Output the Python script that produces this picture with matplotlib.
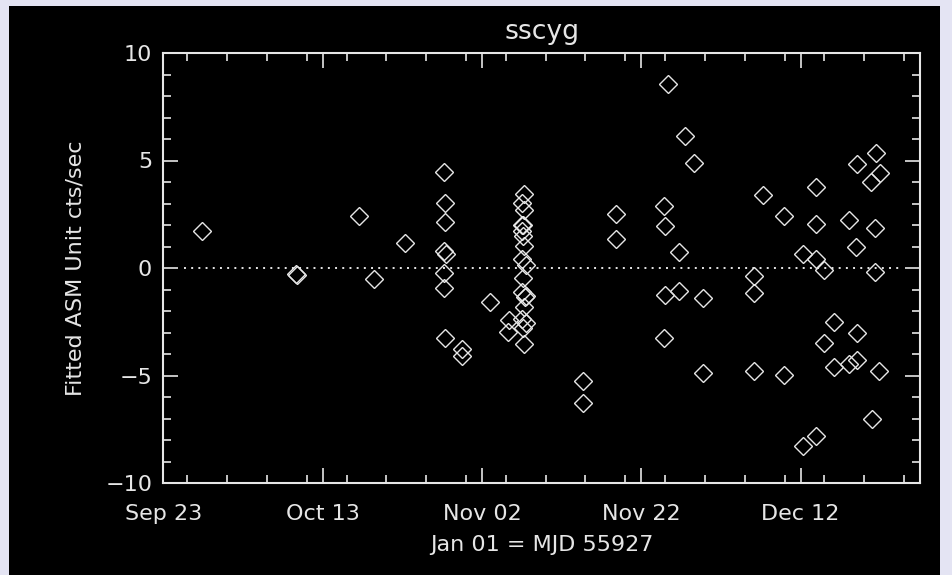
import matplotlib
matplotlib.use("Agg")
import matplotlib.pyplot as plt
from matplotlib.patches import Rectangle
from matplotlib.ticker import FixedLocator, MultipleLocator

# observation times (MJD) and fitted ASM rates (cts/sec)
mjd = [
    55831.9,
    55843.6, 55843.75,
    55851.6, 55853.5, 55857.4,
    55862.2, 55862.4, 55862.4, 55862.2, 55862.5, 55862.2, 55862.2, 55862.4,
    55864.5, 55864.5,
    55868.0, 55870.4, 55870.3,
    55872.3, 55872.0, 55872.3, 55872.0, 55872.1, 55872.0, 55872.2, 55872.3,
    55872.0, 55872.5, 55872.1, 55872.0, 55872.5, 55872.4, 55872.3, 55872.0,
    55872.5, 55872.2, 55872.3,
    55879.7, 55879.7,
    55883.8, 55883.8,
    55890.3, 55889.8, 55890.0, 55890.0, 55889.8,
    55891.8, 55891.8, 55892.5, 55893.6,
    55894.8, 55894.8,
    55901.1, 55901.1, 55901.1, 55902.3,
    55904.9, 55904.9,
    55907.3, 55907.3,
    55909.0, 55909.0, 55909.0, 55909.0,
    55909.9, 55909.9,
    55911.2, 55911.2,
    55913.1, 55913.1,
    55914.0, 55914.1, 55914.1, 55914.1,
    55915.9, 55916.0,
    55916.4, 55916.4, 55916.5,
    55917.0, 55916.9,
]
rate = [
    1.71,
    -0.28, -0.33,
    2.42, -0.53, 1.18,
    4.45, 3.04, 2.14, 0.78, 0.64, -0.25, -0.91, -3.27,
    -3.78, -4.08,
    -1.60, -2.42, -2.96,
    3.42, 3.02, 2.68, 2.02, 1.98, 1.72, 1.48, 1.02,
    0.42, 0.15, -0.46, -1.12, -1.28, -1.33, -1.80, -2.36,
    -2.57, -2.80, -3.52,
    -5.26, -6.30,
    2.51, 1.33,
    8.56, 2.88, 1.97, -1.26, -3.27,
    0.73, -1.05, 6.14, 4.90,
    -1.41, -4.90,
    -0.36, -1.18, -4.79, 3.40,
    2.42, -4.98,
    0.65, -8.28,
    3.75, 2.05, 0.40, -7.81,
    -0.09, -3.47,
    -2.50, -4.62,
    2.23, -4.47,
    0.99, 4.82, -3.04, -4.28,
    4.01, -7.04,
    1.87, -0.17, 5.36,
    4.40, -4.79,
]

tick_mjd = [55827, 55847, 55867, 55887, 55907]
tick_labels = ["Sep 23", "Oct 13", "Nov 02", "Nov 22", "Dec 12"]
x_range = (55827, 55922)

FG = "#e6e6e6"
plt.rcParams["font.family"] = "DejaVu Sans"
plt.rcParams["font.size"] = 16

fig = plt.figure(figsize=(9.52, 5.75), dpi=100)
fig.patch.set_facecolor("#e4e4f3")
# black plotting area inside the light frame, kept behind the axes
fig.patches.append(Rectangle((9 / 952, 0), 931 / 952, 569 / 575,
                             transform=fig.transFigure, facecolor="black",
                             edgecolor="none", zorder=-1))

ax = fig.add_axes([163.3 / 952, 92 / 575, 756.7 / 952, 430 / 575])
ax.set_facecolor("black")

ax.plot(mjd, rate, linestyle="none", marker="D", markersize=9,
        markerfacecolor="none", markeredgecolor=FG, markeredgewidth=1.0)
ax.axhline(0, xmin=0.027, xmax=0.975, color=FG, linewidth=1.4,
           linestyle=(0, (1, 2.7)))

ax.set_xlim(*x_range)
ax.set_ylim(-10, 10)
ax.xaxis.set_major_locator(FixedLocator(tick_mjd))
ax.set_xticklabels(tick_labels)
ax.xaxis.set_minor_locator(MultipleLocator(5))
ax.yaxis.set_major_locator(MultipleLocator(5))
ax.yaxis.set_minor_locator(MultipleLocator(1))

for s in ax.spines.values():
    s.set_color(FG)
    s.set_linewidth(1.5)
ax.tick_params(which="both", direction="in", top=True, right=True,
               colors=FG, width=1.2)
ax.tick_params(which="major", length=10.8)
ax.tick_params(which="minor", length=5.8)
ax.tick_params(axis="x", pad=15)
ax.tick_params(axis="y", pad=8)

ax.set_title("sscyg", color=FG, pad=10)
ax.set_xlabel("Jan 01 = MJD 55927", color=FG, labelpad=8)
ax.set_ylabel("Fitted ASM Unit cts/sec", color=FG, labelpad=14)

fig.savefig("out.png", dpi=100, facecolor=fig.get_facecolor())
